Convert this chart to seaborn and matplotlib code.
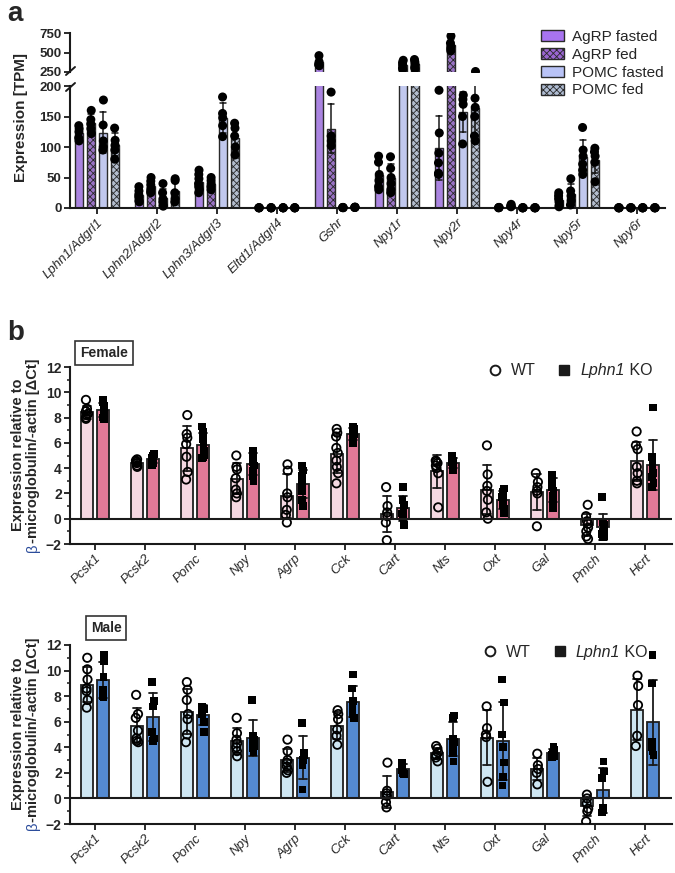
import numpy as np
import pandas as pd
import matplotlib.pyplot as plt
import seaborn as sns
from matplotlib.patches import Patch
from matplotlib.lines import Line2D
from matplotlib.ticker import MultipleLocator

# ---------------- panel a : TPM values (one list of replicates per gene) ----------------
genes_a = ['Lphn1/Adgrl1', 'Lphn2/Adgrl2', 'Lphn3/Adgrl3', 'Eltd1/Adgrl4', 'Gshr',
           'Npy1r', 'Npy2r', 'Npy4r', 'Npy5r', 'Npy6r']
groups_a = ['AgRP fasted', 'AgRP fed', 'POMC fasted', 'POMC fed']

agrp_fasted = [
    [135, 130, 125, 115, 110],
    [35, 28, 22, 18, 12, 10],
    [62, 55, 48, 40, 35, 30, 25],
    [0.3, 0.5, 0.2, 0.4],
    [460, 380, 350, 340, 330],
    [85, 75, 55, 45, 35, 30],
    [193, 123, 90, 74, 57, 55],
    [0.5, 1, 0.3, 0.8],
    [25, 20, 15, 10, 5, 2],
    [0.2, 0.4, 0.3, 0.5],
]
agrp_fed = [
    [160, 145, 138, 130, 122],
    [50, 44, 38, 32, 28, 25],
    [50, 45, 40, 35, 30],
    [0.4, 0.2, 0.6, 0.3],
    [190, 118, 110, 102],
    [84, 65, 50, 40, 30, 25],
    [712, 620, 580, 550, 520],
    [6, 4, 3, 2],
    [48, 28, 20, 12, 5],
    [0.3, 0.2, 0.4, 0.5],
]
pomc_fasted = [
    [177, 136, 110, 100, 95],
    [40, 25, 15, 10, 5, 3],
    [182, 155, 148, 135, 117],
    [0.2, 0.5, 0.3, 0.4],
    [1, 0.6, 0.8, 0.4],
    [400, 370, 340, 300, 280],
    [185, 178, 170, 150, 105],
    [0.4, 0.2, 0.3, 0.6],
    [132, 95, 85, 72, 62, 55],
    [0.3, 0.5, 0.2, 0.4],
]
pomc_fed = [
    [131, 111, 103, 95, 80],
    [48, 45, 25, 15, 10],
    [139, 131, 118, 100, 87],
    [0.5, 0.3, 0.4, 0.2],
    [1.5, 1, 0.8, 1.2],
    [410, 380, 350, 310, 290],
    [265, 180, 165, 150, 118, 110],
    [0.3, 0.5, 0.2, 0.4],
    [98, 92, 85, 75, 43],
    [0.4, 0.3, 0.2, 0.5],
]

# ---------------- panel b : delta Ct values ----------------
genes_b = ['Pcsk1', 'Pcsk2', 'Pomc', 'Npy', 'Agrp', 'Cck', 'Cart', 'Nts', 'Oxt', 'Gal', 'Pmch', 'Hcrt']
groups_b = ['WT', 'KO']

female_wt = [
    [9.4, 8.7, 8.5, 8.3, 8.2, 8.0, 7.9],
    [4.7, 4.6, 4.5, 4.4, 4.2, 4.1],
    [8.2, 6.7, 6.4, 5.9, 4.9, 3.7, 3.1],
    [5.0, 4.1, 3.9, 3.2, 2.3, 2.0, 1.7],
    [4.3, 3.8, 2.0, 1.7, 0.7, 0.3, -0.3],
    [7.1, 6.8, 6.5, 5.6, 5.2, 4.6, 4.1, 3.6, 2.8],
    [2.5, 1.0, 0.5, 0.2, -0.3, -1.7],
    [4.6, 4.5, 4.4, 4.2, 4.0, 3.6, 0.9],
    [5.8, 3.5, 2.6, 2.2, 1.5, 0.5, 0.0],
    [3.6, 2.9, 2.5, 2.2, 2.0, -0.6],
    [1.1, 0.2, -0.2, -0.4, -0.7, -1.0, -1.4, -1.6],
    [6.9, 5.8, 5.5, 4.1, 3.6, 3.0, 2.8],
]
female_ko = [
    [9.4, 9.2, 8.9, 8.7, 8.5, 8.3, 8.0, 7.9],
    [5.1, 5.0, 4.9, 4.8, 4.7, 4.6, 4.4, 4.2],
    [7.3, 6.9, 6.3, 5.8, 5.4, 5.0, 4.8, 4.9],
    [5.4, 5.2, 4.9, 4.5, 4.2, 3.8, 3.4, 3.0],
    [4.2, 3.8, 3.4, 3.0, 2.6, 2.2, 1.5, 1.0],
    [7.3, 7.1, 6.9, 6.7, 6.5, 6.3, 6.0],
    [2.5, 1.5, 1.1, 0.7, 0.4, 0.1, -0.5],
    [5.0, 4.8, 4.6, 4.5, 4.3, 4.2, 4.0, 3.8],
    [2.4, 2.1, 1.9, 1.7, 1.4, 1.1, 0.8, 0.4],
    [3.5, 3.2, 2.8, 2.5, 2.2, 1.8, 1.4, 0.8],
    [1.7, -0.3, -0.5, -0.8, -1.0, -1.2, -1.4, -1.5],
    [8.8, 4.9, 4.3, 4.0, 3.6, 3.3, 2.8, 2.5],
]
male_wt = [
    [11.0, 10.1, 9.3, 8.6, 8.4, 7.7, 7.1],
    [8.1, 6.6, 6.3, 5.3, 4.7, 4.5, 4.4],
    [9.1, 8.5, 7.7, 6.6, 6.2, 5.0, 4.4],
    [6.3, 5.1, 4.6, 4.3, 4.0, 3.7, 3.3],
    [4.6, 3.7, 3.0, 2.8, 2.5, 2.2, 2.0],
    [6.9, 6.6, 6.2, 5.4, 4.9, 4.2],
    [2.8, 0.6, 0.4, 0.2, -0.3, -0.7],
    [4.1, 3.9, 3.6, 3.4, 3.2, 2.9],
    [7.2, 5.5, 5.0, 4.8, 1.3],
    [3.5, 2.6, 2.3, 2.0, 1.1],
    [0.3, 0.0, -0.4, -0.8, -1.0, -1.8],
    [9.6, 8.8, 7.3, 4.9, 4.1],
]
male_ko = [
    [11.2, 10.7, 9.5, 8.5, 8.0, 7.9],
    [9.1, 7.6, 7.2, 5.2, 4.7, 4.5],
    [7.2, 7.1, 7.0, 6.6, 6.0, 5.2],
    [7.7, 4.9, 4.6, 4.3, 4.1, 3.9, 3.6],
    [5.9, 3.6, 3.4, 3.0, 2.6, 0.7],
    [9.7, 8.6, 7.6, 7.2, 6.9, 6.6, 6.3],
    [2.8, 2.6, 2.4, 2.2, 2.0, 1.9],
    [6.5, 6.3, 4.7, 4.4, 4.1, 3.5, 2.9],
    [9.3, 7.5, 5.0, 4.0, 2.8, 1.7, 1.0],
    [4.0, 3.8, 3.6, 3.4, 3.3, 3.2],
    [2.9, 2.1, 1.6, -0.7, -0.9, -1.1],
    [11.2, 9.0, 4.4, 4.0, 3.7, 3.4],
]


def long_df(genes, groups, series):
    rows = [(g, name, v) for name, vals in zip(groups, series)
            for g, pts in zip(genes, vals) for v in pts]
    return pd.DataFrame(rows, columns=['gene', 'grp', 'val'])


# ---------------- style ----------------
sns.set_theme(style='ticks')
plt.rcParams['font.family'] = ['Liberation Sans', 'DejaVu Sans']
plt.rcParams['hatch.linewidth'] = 0.6
np.random.seed(3)

W, H = 675, 873
fig = plt.figure(figsize=(W / 100, H / 100), dpi=100)


def box(l, t, r, b):
    return [l / W, 1 - b / H, (r - l) / W, (b - t) / H]


def style_axis(ax, labelsize):
    for s in ('top', 'right'):
        ax.spines[s].set_visible(False)
    for s in ('left', 'bottom'):
        ax.spines[s].set_linewidth(1.5)
        ax.spines[s].set_color('#1a1a1a')
    ax.tick_params(width=1.3, length=4, color='#1a1a1a', labelsize=labelsize, pad=2)
    for t in ax.get_yticklabels():
        t.set_fontweight('bold')
    ax.set_xlabel('')
    ax.set_ylabel('')


# =========================================================
# a. broken-axis bar chart
# =========================================================
colors_a = ['#A874F0', '#9A66D2', '#B9C3F6', '#AFBCD2']
hatches_a = [None, 'xxxxx', None, 'xxxxx']
df_a = long_df(genes_a, groups_a, [agrp_fasted, agrp_fed, pomc_fasted, pomc_fed])

ax_hi = fig.add_axes(box(70, 33, 665, 72))
ax_lo = fig.add_axes(box(70, 86, 665, 208))

for ax, sub in ((ax_hi, df_a[df_a.val >= 250]), (ax_lo, df_a[df_a.val <= 200])):
    sns.barplot(data=df_a, x='gene', y='val', hue='grp', order=genes_a, hue_order=groups_a,
                palette=colors_a, errorbar='sd', capsize=0.4,
                err_kws={'color': 'k', 'linewidth': 1.1},
                width=0.8, gap=0.3, edgecolor='#2a2a2a', linewidth=1.0, ax=ax, legend=False)
    for cont, h in zip(ax.containers, hatches_a):
        if h:
            for p in cont:
                p.set_hatch(h)
    n0 = len(ax.collections)
    sns.stripplot(data=sub, x='gene', y='val', hue='grp', order=genes_a, hue_order=groups_a,
                  palette={g: 'black' for g in groups_a}, dodge=True, jitter=0.03, size=6.5,
                  linewidth=0, ax=ax, legend=False, zorder=4)
    if ax is ax_lo:
        for c in ax.collections[n0:]:
            c.set_clip_on(False)
    ax.set_xlim(-0.45, 9.47)

ax_lo.set_ylim(0, 200)
ax_lo.set_yticks([0, 50, 100, 150, 200])
ax_hi.set_ylim(250, 750)
ax_hi.set_yticks([250, 500, 750])
ax_hi.tick_params(bottom=False, labelbottom=False)
style_axis(ax_hi, 9.5)
style_axis(ax_lo, 9.5)
ax_hi.spines['bottom'].set_visible(False)
ax_lo.set_xticks(range(len(genes_a)))
ax_lo.set_xticklabels(genes_a, rotation=45, ha='right', rotation_mode='anchor',
                      fontstyle='italic', fontsize=9.5)

# break marks on the y axis
for yp in (71, 87):
    fig.add_artist(Line2D([66 / W, 75 / W], [1 - (yp + 4) / H, 1 - (yp - 4) / H],
                          color='#1a1a1a', lw=1.4))

handles_a = [Patch(facecolor=c, edgecolor='#2a2a2a', hatch=h, lw=1.0)
             for c, h in zip(colors_a, hatches_a)]
fig.legend(handles_a, groups_a, loc='upper left', bbox_to_anchor=(541 / W, 1 - 30 / H),
           frameon=False, fontsize=11, handlelength=1.5, handleheight=0.75,
           labelspacing=0.25, handletextpad=0.5, borderaxespad=0, borderpad=0)

fig.text(21 / W, 1 - 118 / H, 'Expression [TPM]', rotation=90, fontweight='bold',
         fontsize=11, ha='center', va='center')
fig.text(7 / W, 1 - 21 / H, 'a', fontsize=20, fontweight='bold', ha='left', va='baseline')


# =========================================================
# b. qPCR bar charts
# =========================================================
legend_texts = []


def panel_b(rect, wt, ko, colors, title, title_xy, leg_anchor):
    ax = fig.add_axes(rect)
    df = long_df(genes_b, groups_b, [wt, ko])
    sns.barplot(data=df, x='gene', y='val', hue='grp', order=genes_b, hue_order=groups_b,
                palette=colors, errorbar='sd', capsize=0.35,
                err_kws={'color': 'k', 'linewidth': 1.3},
                width=0.64, gap=0.25, edgecolor='#1f1f1f', linewidth=1.3, ax=ax, legend=False)
    n0 = len(ax.collections)
    sns.stripplot(data=df[df.grp == 'WT'], x='gene', y='val', hue='grp', order=genes_b,
                  hue_order=groups_b, palette={'WT': 'black', 'KO': 'black'}, dodge=True,
                  jitter=0.05, marker='o', size=6, linewidth=1.3, edgecolor='black',
                  ax=ax, legend=False, zorder=4)
    for c in ax.collections[n0:]:
        c.set_facecolor('none')
        c.set_offsets(c.get_offsets() + np.array([0.04, 0]))
    n1 = len(ax.collections)
    sns.stripplot(data=df[df.grp == 'KO'], x='gene', y='val', hue='grp', order=genes_b,
                  hue_order=groups_b, palette={'WT': 'black', 'KO': 'black'}, dodge=True,
                  jitter=0.05, marker='s', size=5.5, linewidth=0, ax=ax, legend=False, zorder=4)
    for c in ax.collections[n1:]:
        c.set_offsets(c.get_offsets() - np.array([0.04, 0]))

    ax.axhline(0, color='#1a1a1a', lw=1.5, zorder=5)
    ax.set_ylim(-2, 12)
    ax.set_yticks(range(-2, 13, 2))
    ax.yaxis.set_minor_locator(MultipleLocator(1))
    ax.tick_params(which='minor', width=1.1, length=2.5, color='#1a1a1a')
    ax.set_xlim(-0.5, 11.54)
    style_axis(ax, 10)
    ax.set_xticks(range(len(genes_b)))
    ax.set_xticklabels(genes_b, rotation=45, ha='right', rotation_mode='anchor',
                       fontstyle='italic', fontsize=9.5)

    fig.text(title_xy[0] / W, 1 - title_xy[1] / H, title, ha='center', va='center',
             fontweight='bold', fontsize=10,
             bbox=dict(boxstyle='square,pad=0.35', fc='white', ec='#333333', lw=1.2))

    leg_handles = [Line2D([], [], marker='o', ls='', mfc='none', mec='k', mew=1.4, ms=7),
                   Line2D([], [], marker='s', ls='', color='k', ms=6.5)]
    leg = ax.legend(leg_handles, ['WT', 'Lphn1'], ncol=2, loc='upper left',
                    bbox_to_anchor=leg_anchor, frameon=False, fontsize=11.5,
                    handletextpad=0.5, columnspacing=1.3, handlelength=1.0,
                    borderaxespad=0, borderpad=0)
    leg.get_texts()[1].set_fontstyle('italic')
    legend_texts.append(leg.get_texts()[1])
    return ax


def ylabel_b(yc_px):
    yc = 1 - yc_px / H
    fig.text(22 / W, yc, 'Expression relative to', rotation=90, rotation_mode='anchor',
             ha='center', va='baseline', fontweight='bold', fontsize=10.5)
    tb = fig.text(37 / W, 0, 'β', rotation=90, rotation_mode='anchor', ha='left',
                  va='baseline', color='#2B4C9B', fontsize=10.5)
    tr = fig.text(37 / W, 0, '-microglobulin/-actin [ΔCt]', rotation=90,
                  rotation_mode='anchor', ha='left', va='baseline', fontweight='bold',
                  fontsize=10.5)
    return tb, tr, yc


panel_b(box(70, 367, 672, 544), female_wt, female_ko, ['#FAD3E1', '#F4678F'],
        'Female', (104, 353), (0.692, 1.02))
panel_b(box(70, 645, 672, 824), male_wt, male_ko, ['#C8E8F8', '#3F87E6'],
        'Male', (106, 628), (0.685, 1.0))
ylabs = [ylabel_b(455), ylabel_b(734)]
fig.text(7 / W, 1 - 340 / H, 'b', fontsize=20, fontweight='bold', ha='left', va='baseline')

# place pieces of text that depend on measured extents
fig.canvas.draw()
r = fig.canvas.get_renderer()
for t in legend_texts:
    bb = t.get_window_extent(r)
    fig.text(bb.x1 / fig.bbox.width, bb.y0 / fig.bbox.height, '\u00a0KO', fontsize=11.5,
             ha='left', va='bottom')
for tb, tr, yc in ylabs:
    hb = tb.get_window_extent(r).height / fig.bbox.height
    hr = tr.get_window_extent(r).height / fig.bbox.height
    y0 = yc - (hb + hr) / 2
    tb.set_y(y0)
    tr.set_y(y0 + hb)

fig.savefig('out.png', dpi=100)
